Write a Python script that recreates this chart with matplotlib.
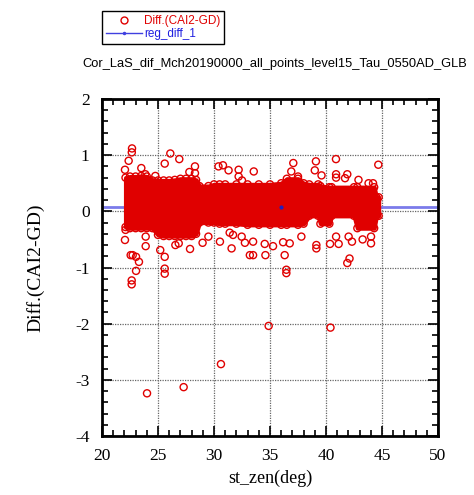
import numpy as np
import matplotlib
matplotlib.use("Agg")
import matplotlib.pyplot as plt
from matplotlib.ticker import MultipleLocator
from matplotlib.lines import Line2D

plt.rcParams["axes.unicode_minus"] = False

# ---------------- data ----------------
# dense core of the scatter: envelope of point centres
band_x   = [22.1, 22.5, 23.0, 23.5, 24.0, 24.5, 25.0, 25.5, 26.0, 26.5, 27.0, 27.5, 28.0, 28.4,
            28.7, 29.5, 30.0, 30.5, 31.0, 32.0, 33.0, 34.0, 35.0, 36.0, 36.5, 37.5, 38.0, 38.5,
            39.3, 39.5, 40.3, 40.5, 42.5, 42.8, 44.3, 44.5, 44.7]
band_top = [0.60, 0.62, 0.62, 0.63, 0.62, 0.55, 0.55, 0.55, 0.55, 0.56, 0.58, 0.58, 0.58, 0.56,
            0.45, 0.45, 0.48, 0.48, 0.48, 0.48, 0.48, 0.48, 0.48, 0.50, 0.58, 0.58, 0.50, 0.48,
            0.48, 0.45, 0.43, 0.43, 0.43, 0.43, 0.43, 0.25, 0.25]
band_bot = [-0.28, -0.30, -0.30, -0.30, -0.30, -0.30, -0.42, -0.44, -0.44, -0.44, -0.44, -0.44, -0.44, -0.40,
            -0.20, -0.20, -0.20, -0.22, -0.22, -0.22, -0.24, -0.24, -0.24, -0.24, -0.24, -0.24, -0.22, -0.08,
            -0.08, -0.22, -0.22, -0.08, -0.08, -0.30, -0.30, -0.08, -0.08]

# individual points outside the dense core
pts_x = [22.68, 22.66, 22.38, 22.05, 23.51, 23.87, 24.76, 25.6, 26.1, 26.9, 28.3, 28.3, 27.8,
         30.4, 30.8, 31.3, 32.2, 32.2, 32.5, 33.55, 37.08, 36.9, 37.5, 39.1, 39.0, 39.6,
         40.89, 40.9, 40.9, 41.9, 41.7, 42.9, 43.8, 44.2, 44.67,
         22.05, 22.1, 22.56, 22.74, 23.04, 23.3, 23.04, 22.65, 22.65, 23.9, 23.9, 25.2, 25.6,
         25.6, 25.6, 26.55, 26.85, 27.86, 28.98, 29.5, 30.53, 31.57, 31.4, 31.7, 32.47, 32.76,
         33.2, 33.49, 33.49, 34.53, 34.59, 35.27, 36.17, 36.31, 36.76, 36.46, 36.46, 37.8,
         39.14, 39.14, 40.36, 41.13, 40.9, 42.02, 42.32, 43.27, 44.02, 44.02, 42.1, 41.9,
         34.88, 40.4, 30.62, 27.29, 24.02]
pts_y = [1.12, 1.05, 0.90, 0.74, 0.77, 0.66, 0.63, 0.85, 1.03, 0.93, 0.80, 0.68, 0.70,
         0.80, 0.82, 0.73, 0.74, 0.62, 0.55, 0.71, 0.86, 0.71, 0.62, 0.89, 0.73, 0.64,
         0.93, 0.66, 0.60, 0.66, 0.59, 0.56, 0.50, 0.50, 0.83,
         -0.51, -0.33, -0.78, -0.78, -0.81, -0.90, -1.06, -1.23, -1.30, -0.62, -0.45, -0.69, -0.81,
         -1.02, -1.11, -0.60, -0.57, -0.67, -0.56, -0.45, -0.54, -0.66, -0.38, -0.42, -0.45, -0.56,
         -0.78, -0.54, -0.78, -0.58, -0.78, -0.62, -0.55, -0.78, -0.57, -1.04, -1.10, -0.45,
         -0.60, -0.66, -0.58, -0.58, -0.45, -0.45, -0.54, -0.50, -0.57, -0.45, -0.84, -0.92,
         -2.04, -2.07, -2.72, -3.13, -3.24]

# regression line
reg_x = [20.0, 36.0, 50.0]
reg_y = [0.08, 0.08, 0.08]

x_ticks = [20, 25, 30, 35, 40, 45, 50]
y_ticks = [-4, -3, -2, -1, 0, 1, 2]

title = "Cor_LaS_dif_Mch20190000_all_points_level15_Tau_0550AD_GLB"

# ---------------- figure ----------------
RED = "#e00000"
fig = plt.figure(figsize=(4.74, 4.95), dpi=100)
ax = fig.add_axes([102/474, 1-436/495, 336/474, 337/495])

ax.plot(reg_x, reg_y, color="#7b7bea", lw=2.0, zorder=2)

ax.fill_between(band_x, band_bot, band_top, facecolor=RED, edgecolor=RED,
                linewidth=3.0, joinstyle="round", zorder=3)
ax.scatter(band_x + band_x, band_top + band_bot, s=26, facecolors="none",
           edgecolors=RED, linewidths=1.0, zorder=3)
ax.scatter(pts_x, pts_y, s=26, facecolors="none", edgecolors=RED, linewidths=1.0, zorder=3)

ax.plot([reg_x[1]], [reg_y[1]], marker="o", ms=2, color="#2020c0", lw=0, zorder=5)

ax.set_xlim(20, 50)
ax.set_ylim(-4, 2)
ax.set_xticks(x_ticks)
ax.set_yticks(y_ticks)
ax.xaxis.set_minor_locator(MultipleLocator(1))
ax.yaxis.set_minor_locator(MultipleLocator(0.2))
ax.tick_params(which="both", direction="in", top=True, right=True, width=1.2, color="black")
ax.tick_params(which="major", length=7, labelsize=12.5, pad=9)
ax.tick_params(which="minor", length=4)
for lab in ax.get_xticklabels() + ax.get_yticklabels():
    lab.set_fontfamily("Liberation Serif")
ax.grid(True, which="major", linestyle=(0, (1, 1)), color="#666666", linewidth=0.9, zorder=0)
ax.set_axisbelow(True)
for sp in ax.spines.values():
    sp.set_linewidth(2.0)

ax.set_xlabel("st_zen(deg)", fontfamily="Liberation Serif", fontsize=13, labelpad=4)
ax.set_ylabel("Diff.(CAI2-GD)", fontfamily="Liberation Serif", fontsize=14, labelpad=22)

fig.text(275/474, 1-64/495, title, ha="center", va="center",
         fontfamily="Liberation Sans", fontsize=9.3)

handles = [Line2D([], [], marker="o", ls="none", mfc="none", mec=RED, ms=5, mew=1.0),
           Line2D([], [], color="#4040e0", lw=1.0, marker="o", ms=1.5)]
leg = fig.legend(handles, ["Diff.(CAI2-GD)", "reg_diff_1"],
                 loc="upper left", bbox_to_anchor=(102/474, 1-11/495),
                 prop={"family": "Liberation Sans", "size": 8.5},
                 frameon=True, fancybox=False, edgecolor="black", framealpha=1,
                 handlelength=3.0, handletextpad=0.2, borderpad=0.35, labelspacing=0.05,
                 borderaxespad=0)
leg.get_frame().set_linewidth(1.0)
for t, c in zip(leg.get_texts(), [RED, "#2020e0"]):
    t.set_color(c)

fig.savefig("out.png", dpi=100)
